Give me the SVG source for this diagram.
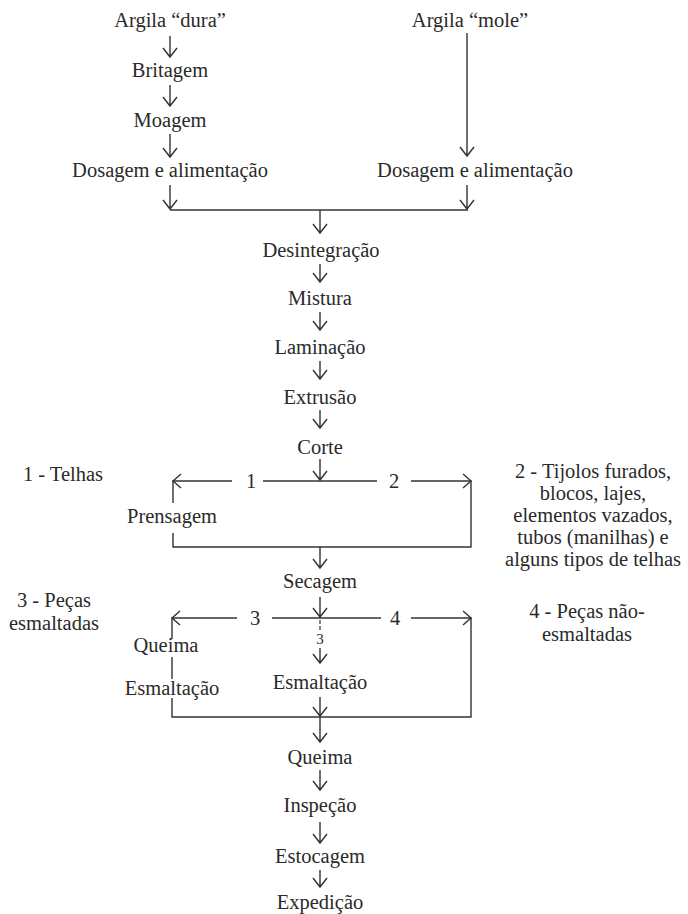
<svg xmlns="http://www.w3.org/2000/svg" width="688" height="914" viewBox="0 0 688 914">
<style>
text{font-size:20.5px;fill:#2a2a2a;text-anchor:middle}
.small{font-size:15px}
.ln{fill:none;stroke:#333;stroke-width:1.4}
</style>
<rect width="688" height="914" fill="#fff"/>
<g id="connectors">
<path class="ln" d="M170 36V57M163 48L170 57L177 48"/>
<path class="ln" d="M170 85V106M163 97L170 106L177 97"/>
<path class="ln" d="M170 134V157M163 148L170 157L177 148"/>
<path class="ln" d="M170 185V209M163 200L170 209L177 200"/>
<path class="ln" d="M467 33V156M460 147L467 156L474 147"/>
<path class="ln" d="M467 185V209M460 200L467 209L474 200"/>
<path class="ln" d="M170 210H468" style="stroke-width:1.7"/>
<path class="ln" d="M320 210V233M313 224L320 233L327 224"/>
<path class="ln" d="M320 264V282M313 273L320 282L327 273"/>
<path class="ln" d="M320 312V330M313 321L320 330L327 321"/>
<path class="ln" d="M320 361V379M313 370L320 379L327 370"/>
<path class="ln" d="M320 410V428M313 419L320 428L327 419"/>
<path class="ln" d="M320 459V480M313 471L320 480L327 471"/>
<path class="ln" d="M232 481H173V503M173 533V547H471V481H411M377 481H263"/>
<path class="ln" d="M181 474L173 481L181 488M463 474L471 481L463 488"/>
<path class="ln" d="M320 547V568M313 559L320 568L327 559"/>
<path class="ln" d="M320 597V617M313 608L320 617L327 608"/>
<path class="ln" d="M237 618H172V639M172 657V679M172 698V717H471V618H411M381 618H272"/>
<path class="ln" d="M180 611L172 618L180 625M463 611L471 618L463 625"/>
<path class="ln" d="M320 620V624M320 626V630" style="stroke-width:1.2"/>
<path class="ln" d="M320 648V663M313 654L320 663L327 654"/>
<path class="ln" d="M320 697V716M313 707L320 716L327 707"/>
<path class="ln" d="M320 717V742M313 733L320 742L327 733"/>
<path class="ln" d="M320 770V790M313 781L320 790L327 781"/>
<path class="ln" d="M320 822V843M313 834L320 843L327 834"/>
<path class="ln" d="M320 870V887M313 878L320 887L327 878"/>
</g>
<g font-family="'Liberation Serif', 'Times New Roman', 'DejaVu Serif', serif">
<g id="argila-dura"><text x="170" y="27">Argila “dura”</text></g>
<g id="britagem"><text x="170" y="77">Britagem</text></g>
<g id="moagem"><text x="170" y="127">Moagem</text></g>
<g id="dosagem-1"><text x="170" y="177">Dosagem e alimentação</text></g>
<g id="argila-mole"><text x="470" y="27">Argila “mole”</text></g>
<g id="dosagem-2"><text x="475" y="177">Dosagem e alimentação</text></g>
<g id="desintegracao"><text x="321" y="257">Desintegração</text></g>
<g id="mistura"><text x="320" y="305">Mistura</text></g>
<g id="laminacao"><text x="320" y="354">Laminação</text></g>
<g id="extrusao"><text x="320" y="404">Extrusão</text></g>
<g id="corte"><text x="320" y="454">Corte</text></g>
<g id="lbl-1"><text x="251" y="488">1</text></g>
<g id="lbl-2"><text x="394" y="488">2</text></g>
<g id="telhas"><text x="63" y="481">1 - Telhas</text></g>
<g id="tijolos"><text x="593" y="478">2 - Tijolos furados,</text><text x="593" y="500">blocos, lajes,</text><text x="593" y="522">elementos vazados,</text><text x="593" y="544">tubos (manilhas) e</text><text x="593" y="566">alguns tipos de telhas</text></g>
<g id="prensagem"><text x="172" y="523">Prensagem</text></g>
<g id="secagem"><text x="320" y="588">Secagem</text></g>
<g id="lbl-3"><text x="255" y="625">3</text></g>
<g id="lbl-4"><text x="395" y="625">4</text></g>
<g id="lbl-3b"><text class="small" x="320" y="644">3</text></g>
<g id="pecas-esm"><text x="54" y="607">3 - Peças</text><text x="54" y="630">esmaltadas</text></g>
<g id="pecas-nao"><text x="587" y="618">4 - Peças não-</text><text x="587" y="641">esmaltadas</text></g>
<g id="queima-l"><text x="166" y="652">Queima</text></g>
<g id="esmaltacao-l"><text x="172" y="695">Esmaltação</text></g>
<g id="esmaltacao-c"><text x="320" y="689">Esmaltação</text></g>
<g id="queima"><text x="320" y="764">Queima</text></g>
<g id="inspecao"><text x="320" y="812">Inspeção</text></g>
<g id="estocagem"><text x="320" y="863">Estocagem</text></g>
<g id="expedicao"><text x="320" y="909">Expedição</text></g>
</g>
</svg>
